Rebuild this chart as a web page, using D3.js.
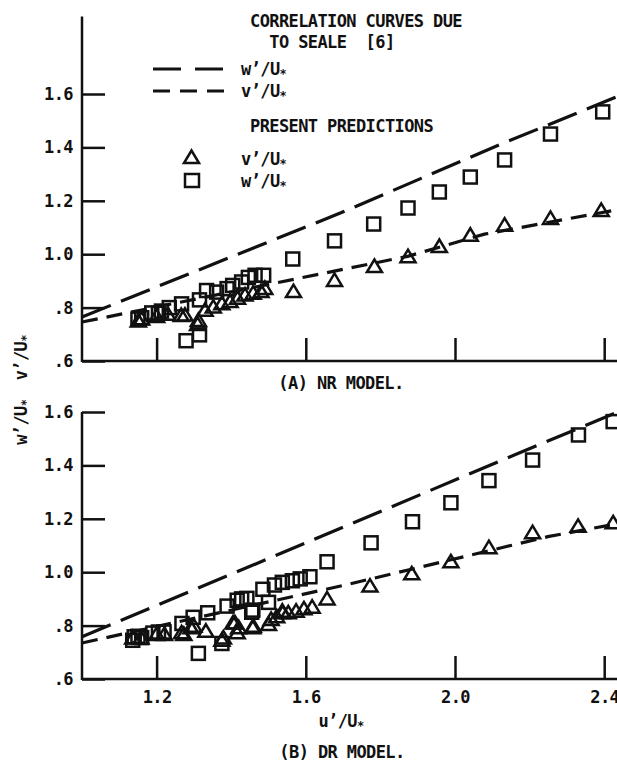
<!DOCTYPE html>
<html>
<head>
<meta charset="utf-8">
<script src="https://cdn.jsdelivr.net/npm/d3@7"></script>
<style>
  html, body { margin: 0; padding: 0; background: #fff; }
  text { font-family: "DejaVu Sans Mono", monospace; font-weight: bold; fill: #111; white-space: pre; letter-spacing: -0.6px; }
</style>
</head>
<body>
<div id="chart"></div>
<script>
// ---- data ----
const xTicks = [1.2, 1.6, 2.0, 2.4];
const yTicks = [0.6, 0.8, 1.0, 1.2, 1.4, 1.6];

// correlation curves due to Seale [6]  (u'/U*, value)
const topWCurve = [[1.0, 0.765], [1.694, 1.155], [2.123, 1.412], [2.44, 1.593]];
const topVCurve = [[1.0, 0.746], [1.873, 0.992], [2.079, 1.075], [2.44, 1.168]];
const botWCurve = [[1.0, 0.758], [1.65, 1.139], [2.159, 1.439], [2.44, 1.602]];
const botVCurve = [[1.0, 0.735], [1.712, 0.954], [2.249, 1.133], [2.44, 1.183]];

// (A) NR model predictions
const topSquares = [
  [1.15, 0.757], [1.16, 0.762], [1.187, 0.78], [1.205, 0.779], [1.213, 0.787],
  [1.234, 0.800], [1.267, 0.814], [1.279, 0.676], [1.315, 0.698], [1.315, 0.829],
  [1.334, 0.864], [1.361, 0.858], [1.389, 0.871], [1.404, 0.883], [1.428, 0.896],
  [1.446, 0.913], [1.464, 0.921], [1.487, 0.921], [1.565, 0.982], [1.677, 1.050],
  [1.782, 1.113], [1.874, 1.173], [1.958, 1.233], [2.041, 1.289], [2.133, 1.353],
  [2.256, 1.450], [2.396, 1.533]
];
const topTriangles = [
  [1.151, 0.748], [1.16, 0.755], [1.2, 0.765], [1.23, 0.773], [1.266, 0.769],
  [1.276, 0.770], [1.312, 0.75], [1.31, 0.735], [1.33, 0.788], [1.352, 0.80],
  [1.375, 0.813], [1.397, 0.821], [1.417, 0.833], [1.437, 0.845], [1.459, 0.852],
  [1.48, 0.858], [1.49, 0.87], [1.567, 0.858], [1.677, 0.900], [1.784, 0.952],
  [1.874, 0.989], [1.958, 1.027], [2.041, 1.069], [2.133, 1.107], [2.256, 1.132],
  [2.392, 1.162]
];

// (B) DR model predictions
const botSquares = [
  [1.136, 0.745], [1.14, 0.758], [1.15, 0.76], [1.16, 0.755], [1.19, 0.772],
  [1.205, 0.776], [1.22, 0.776], [1.268, 0.808], [1.298, 0.831], [1.312, 0.696],
  [1.337, 0.848], [1.375, 0.733], [1.389, 0.873], [1.416, 0.895], [1.428, 0.90],
  [1.442, 0.902], [1.455, 0.85], [1.458, 0.858], [1.485, 0.936], [1.50, 0.887],
  [1.516, 0.952], [1.537, 0.962], [1.564, 0.968], [1.585, 0.975], [1.611, 0.983],
  [1.657, 1.039], [1.775, 1.110], [1.886, 1.189], [1.989, 1.260], [2.091, 1.343],
  [2.208, 1.420], [2.331, 1.514], [2.424, 1.564]
];
const botTriangles = [
  [1.136, 0.752], [1.158, 0.752], [1.2, 0.765], [1.221, 0.765], [1.267, 0.771],
  [1.273, 0.765], [1.292, 0.79], [1.30, 0.796], [1.332, 0.777], [1.375, 0.743],
  [1.379, 0.752], [1.405, 0.808], [1.41, 0.808], [1.416, 0.771], [1.42, 0.79],
  [1.458, 0.79], [1.459, 0.796], [1.50, 0.802], [1.507, 0.821], [1.522, 0.831],
  [1.537, 0.852], [1.538, 0.846], [1.553, 0.846], [1.574, 0.852], [1.595, 0.861],
  [1.617, 0.867], [1.657, 0.898], [1.772, 0.946], [1.884, 0.992], [1.989, 1.037],
  [2.091, 1.090], [2.208, 1.146], [2.330, 1.170], [2.424, 1.183]
];

// ---- layout ----
const width = 617, height = 771;
const axisX = 82;
const fs = "17px";
const longDash = "31,11", shortDash = "16,9";

const svg = d3.select("#chart").append("svg")
  .attr("width", width)
  .attr("height", height);

const x = d3.scaleLinear().domain([1.0, 2.44]).range([axisX, axisX + 1.44 * 373]);

const tickFmt = d => {
  const s = d3.format(".1f")(d);
  return d < 1 ? s.replace(/^0/, "") : s;
};

function triPath(cx, cy) {
  return `M${cx - 7.5},${cy + 5}L${cx + 7.5},${cy + 5}L${cx},${cy - 7.5}Z`;
}

function drawPanel(opts) {
  const y = d3.scaleLinear().domain([0.6, 1.6]).range([opts.bottom, opts.bottom - 267]);
  const g = svg.append("g");

  // y axis
  const ya = g.append("g")
    .attr("transform", `translate(${axisX},0)`)
    .call(d3.axisLeft(y).tickValues(yTicks).tickSize(-23).tickPadding(9).tickFormat(tickFmt));
  ya.select(".domain").remove();
  ya.selectAll("line").attr("stroke", "#111").attr("stroke-width", 2.5);
  ya.selectAll("text").style("font-size", fs).attr("fill", "#111");
  g.append("line")
    .attr("x1", axisX).attr("x2", axisX)
    .attr("y1", y(opts.yTop)).attr("y2", y(0.6) + 1)
    .attr("stroke", "#111").attr("stroke-width", 2.5);

  // x axis
  const xa = g.append("g")
    .attr("transform", `translate(0,${y(0.6)})`)
    .call(d3.axisBottom(x).tickValues(xTicks).tickSize(-23).tickPadding(12)
      .tickFormat(opts.xLabels ? d3.format(".1f") : ""));
  xa.select(".domain").remove();
  xa.selectAll("line").attr("stroke", "#111").attr("stroke-width", 2.5);
  xa.selectAll("text").style("font-size", fs).attr("fill", "#111");
  g.append("line")
    .attr("x1", axisX).attr("x2", width)
    .attr("y1", y(0.6)).attr("y2", y(0.6))
    .attr("stroke", "#111").attr("stroke-width", 2.5);

  // correlation curves
  const line = d3.line().x(d => x(d[0])).y(d => y(d[1]));
  g.append("path").datum(opts.wCurve)
    .attr("d", line).attr("fill", "none").attr("stroke", "#111")
    .attr("stroke-width", 3.2).attr("stroke-dasharray", longDash);
  g.append("path").datum(opts.vCurve)
    .attr("d", line).attr("fill", "none").attr("stroke", "#111")
    .attr("stroke-width", 3.2).attr("stroke-dasharray", shortDash);

  // predictions
  g.selectAll("rect.sq").data(opts.squares).enter().append("rect")
    .attr("class", "sq")
    .attr("x", d => x(d[0]) - 6.5).attr("y", d => y(d[1]) - 6.5)
    .attr("width", 13).attr("height", 13)
    .attr("fill", "none").attr("stroke", "#111").attr("stroke-width", 2.5);
  g.selectAll("path.tri").data(opts.triangles).enter().append("path")
    .attr("class", "tri")
    .attr("d", d => triPath(x(d[0]), y(d[1])))
    .attr("fill", "none").attr("stroke", "#111").attr("stroke-width", 2.5)
    .attr("stroke-linejoin", "miter");
}

drawPanel({ bottom: 361, yTop: 1.89, xLabels: false,
  wCurve: topWCurve, vCurve: topVCurve, squares: topSquares, triangles: topTriangles });
drawPanel({ bottom: 679, yTop: 1.6, xLabels: true,
  wCurve: botWCurve, vCurve: botVCurve, squares: botSquares, triangles: botTriangles });

// ---- legend ----
const lg = svg.append("g").style("font-size", fs);
function uStar(sel, pre) {
  sel.append("tspan").text(pre + "U");
  sel.append("tspan").text("*").attr("dy", 3).style("font-size", "12px");
}
lg.append("text").attr("x", 250).attr("y", 27).text("CORRELATION CURVES DUE");
lg.append("text").attr("x", 250).attr("y", 48).text("  TO SEALE  [6]");
lg.append("line").attr("x1", 153).attr("x2", 226).attr("y1", 69).attr("y2", 69)
  .attr("stroke", "#111").attr("stroke-width", 3.2).attr("stroke-dasharray", "28,14");
lg.append("text").attr("x", 241).attr("y", 75).call(uStar, "w’/");
lg.append("line").attr("x1", 153).attr("x2", 226).attr("y1", 91).attr("y2", 91)
  .attr("stroke", "#111").attr("stroke-width", 3.2).attr("stroke-dasharray", "17,10");
lg.append("text").attr("x", 241).attr("y", 97).call(uStar, "v’/");
lg.append("text").attr("x", 250).attr("y", 132).text("PRESENT PREDICTIONS");
lg.append("path").attr("d", triPath(191.5, 158))
  .attr("fill", "none").attr("stroke", "#111").attr("stroke-width", 2.5);
lg.append("text").attr("x", 241).attr("y", 165).call(uStar, "v’/");
lg.append("rect").attr("x", 185).attr("y", 174).attr("width", 14).attr("height", 13)
  .attr("fill", "none").attr("stroke", "#111").attr("stroke-width", 2.5);
lg.append("text").attr("x", 241).attr("y", 187).call(uStar, "w’/");

// ---- titles ----
const tg = svg.append("g").style("font-size", fs);
tg.append("text").attr("x", 341).attr("y", 389).attr("text-anchor", "middle").text("(A) NR MODEL.");
tg.append("text").attr("x", 341).attr("y", 727).attr("text-anchor", "middle").call(uStar, "u’/");
tg.append("text").attr("x", 342).attr("y", 758).attr("text-anchor", "middle").text("(B) DR MODEL.");

const yl = tg.append("text")
  .attr("transform", "translate(27,390) rotate(-90)")
  .attr("text-anchor", "middle");
yl.append("tspan").text("w’/U");
yl.append("tspan").text("*").attr("dy", 3).style("font-size", "12px");
yl.append("tspan").text("  v’/U").attr("dy", -3);
yl.append("tspan").text("*").attr("dy", 3).style("font-size", "12px");
</script>
</body>
</html>
